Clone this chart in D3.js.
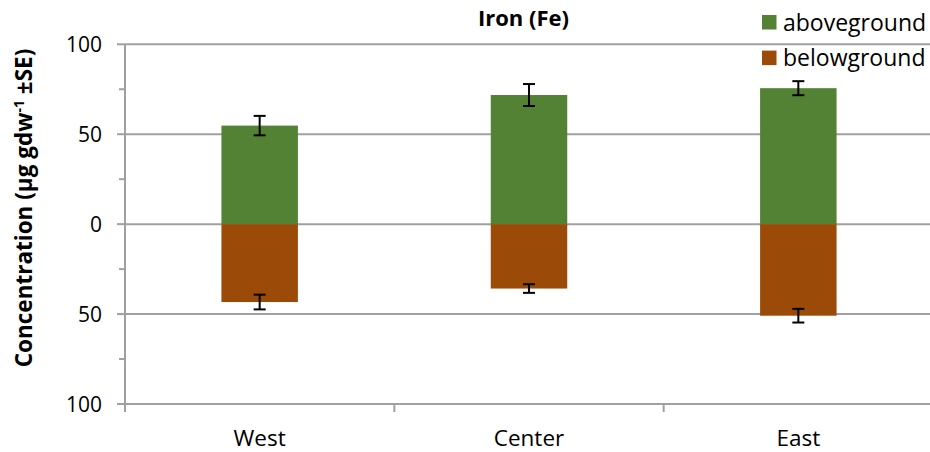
<!DOCTYPE html>
<html>
<head>
<meta charset="utf-8">
<script src="https://cdn.jsdelivr.net/npm/d3@7"></script>
<style>
  html, body { margin: 0; padding: 0; background: #fff; }
  svg { display: block; }
  text { font-family: "Open Sans", "Noto Sans", sans-serif; fill: #000; }
</style>
</head>
<body>
<svg id="chart" width="930" height="452"></svg>
<script>
const categories = ["West", "Center", "East"];
const aboveground = [54.8, 71.8, 75.6];
const abovegroundSE = [5.4, 6.1, 3.9];
const belowground = [43.3, 35.8, 50.9];
const belowgroundSE = [4.1, 2.4, 3.8];
const yTicks = [-100, -50, 0, 50, 100];
const yMinorTicks = [-75, -25, 25, 75];
const seriesNames = ["aboveground", "belowground"];
const seriesColors = ["#548235", "#9c4a08"];
const title = "Iron (Fe)";

(function () {
const svg = d3.select("#chart");
const pLeft = 125, pRight = 933, pTop = 44.3, pBottom = 404;

const x = d3.scaleBand().domain(categories).range([pLeft, pRight])
  .paddingInner(0.716).paddingOuter(0.358);
const y = d3.scaleLinear().domain([-100, 100]).range([pBottom, pTop]);

const grid = "#a0a0a0";

// gridlines
svg.append("g").selectAll("line").data(yTicks).join("line")
  .attr("x1", pLeft).attr("x2", 930)
  .attr("y1", d => y(d)).attr("y2", d => y(d))
  .attr("stroke", grid).attr("stroke-width", 2);

// y axis line + ticks
svg.append("line").attr("x1", pLeft).attr("x2", pLeft)
  .attr("y1", pTop).attr("y2", pBottom + 8)
  .attr("stroke", grid).attr("stroke-width", 2);
svg.append("g").selectAll("line").data(yTicks).join("line")
  .attr("x1", pLeft - 8).attr("x2", pLeft)
  .attr("y1", d => y(d)).attr("y2", d => y(d))
  .attr("stroke", grid).attr("stroke-width", 2);
svg.append("g").selectAll("line").data(yMinorTicks).join("line")
  .attr("x1", pLeft - 6).attr("x2", pLeft)
  .attr("y1", d => y(d)).attr("y2", d => y(d))
  .attr("stroke", grid).attr("stroke-width", 2);
svg.append("g").selectAll("text").data(yTicks).join("text")
  .attr("x", 102).attr("y", d => y(d)).attr("dy", "0.36em")
  .attr("text-anchor", "end").attr("font-size", 21)
  .text(d => Math.abs(d));

// x ticks at band boundaries
const step = x.step();
const boundaries = categories.map((c, i) => pLeft + (i + 1) * step);
svg.append("g").selectAll("line").data(boundaries).join("line")
  .attr("x1", d => d).attr("x2", d => d)
  .attr("y1", pBottom).attr("y2", pBottom + 8)
  .attr("stroke", grid).attr("stroke-width", 2);

// bars
const bw = x.bandwidth();
svg.append("g").selectAll("rect").data(categories).join("rect")
  .attr("x", d => x(d)).attr("width", bw)
  .attr("y", (d, i) => y(aboveground[i]))
  .attr("height", (d, i) => y(0) - y(aboveground[i]))
  .attr("fill", seriesColors[0]);
svg.append("g").selectAll("rect").data(categories).join("rect")
  .attr("x", d => x(d)).attr("width", bw)
  .attr("y", y(0))
  .attr("height", (d, i) => y(-belowground[i]) - y(0))
  .attr("fill", seriesColors[1]);

// error bars
function errorBars(vals, ses, sign) {
  const g = svg.append("g").attr("stroke", "#000").attr("stroke-width", 2);
  categories.forEach((c, i) => {
    const cx = x(c) + bw / 2;
    const v = sign * vals[i];
    const y1 = y(v + ses[i]), y2 = y(v - ses[i]);
    g.append("line").attr("x1", cx).attr("x2", cx).attr("y1", y1).attr("y2", y2);
    g.append("line").attr("x1", cx - 6).attr("x2", cx + 6).attr("y1", y1).attr("y2", y1);
    g.append("line").attr("x1", cx - 6).attr("x2", cx + 6).attr("y1", y2).attr("y2", y2);
  });
}
errorBars(aboveground, abovegroundSE, 1);
errorBars(belowground, belowgroundSE, -1);

// x axis base line
svg.append("line").attr("x1", pLeft).attr("x2", 930)
  .attr("y1", pBottom).attr("y2", pBottom)
  .attr("stroke", grid).attr("stroke-width", 2);

// category labels
svg.append("g").selectAll("text").data(categories).join("text")
  .attr("x", d => x(d) + bw / 2).attr("y", 445.5)
  .attr("text-anchor", "middle").attr("font-size", 22.5)
  .text(d => d);

// title
svg.append("text").attr("x", 523.5).attr("y", 25.5)
  .attr("text-anchor", "middle").attr("font-size", 22).attr("font-weight", "bold")
  .text(title);

// y axis title
const yt = svg.append("text")
  .attr("transform", "translate(32,208) rotate(-90)")
  .attr("text-anchor", "middle").attr("font-size", 22.5).attr("font-weight", "bold");
yt.append("tspan").text("Concentration (µg gdw");
yt.append("tspan").attr("dy", -8).attr("font-size", 14).text("-1");
yt.append("tspan").attr("dy", 8).text(" ±SE)");

// legend
const lg = svg.append("g");
seriesNames.forEach((s, i) => {
  const yy = 15 + i * 35.6;
  lg.append("rect").attr("x", 762).attr("y", yy).attr("width", 14.5).attr("height", 14.5)
    .attr("fill", seriesColors[i]);
  lg.append("text").attr("x", 783).attr("y", yy + 15.5).attr("font-size", 23).text(s);
});
})();
</script>
</body>
</html>
